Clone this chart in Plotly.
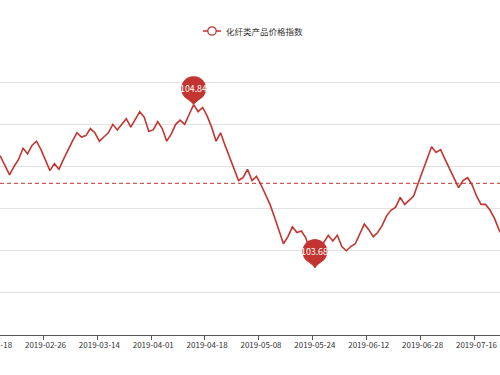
import math
import plotly.graph_objects as go

series_name = "化纤类产品价格指数"

# index values, one per published day (category positions)
index_values = [
    104.52, 104.50, 104.47, 104.41, 104.34, 104.40, 104.45, 104.53, 104.49, 104.55,
    104.58, 104.52, 104.45, 104.37, 104.42, 104.38, 104.45, 104.52, 104.58, 104.64,
    104.61, 104.62, 104.67, 104.64, 104.58, 104.61, 104.64, 104.70, 104.66, 104.70,
    104.74, 104.68, 104.74, 104.79, 104.75, 104.65, 104.66, 104.72, 104.67, 104.58,
    104.63, 104.70, 104.73, 104.70, 104.77, 104.84, 104.79, 104.82, 104.76, 104.68,
    104.58, 104.64, 104.55, 104.47, 104.39, 104.30, 104.32, 104.38, 104.30, 104.33,
    104.27, 104.20, 104.13, 104.04, 103.95, 103.85, 103.90, 103.97, 103.93, 103.94,
    103.89, 103.78, 103.68, 103.76, 103.86, 103.91, 103.87, 103.91, 103.83, 103.80,
    103.83, 103.85, 103.92, 103.99, 103.95, 103.90, 103.93, 103.98, 104.05, 104.09,
    104.11, 104.18, 104.13, 104.16, 104.19, 104.28, 104.37, 104.45, 104.54, 104.50,
    104.52, 104.45, 104.38, 104.31, 104.25, 104.30, 104.32, 104.27, 104.19, 104.13,
    104.13, 104.09, 104.03, 103.95, 103.89,
]

tick_labels = ["2019-01-18", "2019-02-26", "2019-03-14", "2019-04-01", "2019-04-18",
               "2019-05-08", "2019-05-24", "2019-06-12", "2019-06-28", "2019-07-16"]
label_step = 12
average_value = 104.28          # dashed average line
y_min, y_max, y_step = 103.2, 105.3, 0.3

RED = "#c23531"
FONT = "Noto Sans CJK SC, Noto Sans, sans-serif"

x = list(range(len(index_values)))
x_range = [1.87, 113.23]

fig = go.Figure()
fig.add_trace(go.Scatter(x=x, y=index_values, mode="lines", name=series_name,
                         line=dict(color=RED, width=1.6), showlegend=False,
                         hoverinfo="x+y"))

shapes = []
annotations = []

# average dashed line
shapes.append(dict(type="line", xref="paper", x0=0, x1=1, yref="y",
                   y0=average_value, y1=average_value,
                   line=dict(color=RED, width=1, dash="4px,3px"), layer="above"))


def pin_path(r=12.5, c=16.0, n=40):
    dy = r * r / (c + 1.0)
    dx = math.sqrt(r * r - dy * dy)
    start = math.atan2(-dy, dx)
    end = math.pi - start
    pts = []
    for i in range(n + 1):
        a = start + (end - start) * i / n
        pts.append((r * math.cos(a), c + r * math.sin(a)))
    d = "M %.2f,%.2f " % pts[0]
    d += " ".join("L %.2f,%.2f" % p for p in pts[1:])
    lx, ly = pts[-1]
    d += " Q %.2f,%.2f 0,0 Q %.2f,%.2f %.2f,%.2f Z" % (
        lx * 0.35, ly * 0.45, -lx * 0.35, ly * 0.45, pts[0][0], pts[0][1])
    return d


PIN_C = 16.0
i_max = max(range(len(index_values)), key=lambda i: index_values[i])
i_min = min(range(len(index_values)), key=lambda i: index_values[i])
for idx in (i_max, i_min):
    v = index_values[idx]
    shapes.append(dict(type="path", xref="x", yref="y", xsizemode="pixel",
                       ysizemode="pixel", xanchor=idx, yanchor=v,
                       path=pin_path(c=PIN_C), fillcolor=RED,
                       line=dict(width=0), layer="above"))
    annotations.append(dict(x=idx, y=v, xref="x", yref="y", text="%.2f" % v,
                            showarrow=False, yshift=PIN_C, font=dict(
                                family=FONT, size=8.8, color="white")))

# legend (drawn by hand, ECharts-style)
H = 375
top_m, bot_m = 40, 40
plot_h = H - top_m - bot_m


def py(p):
    return (H - bot_m - p) / plot_h


leg_y = 31
shapes.append(dict(type="line", xref="paper", yref="paper", x0=203 / 500,
                   x1=221 / 500, y0=py(leg_y), y1=py(leg_y),
                   line=dict(color=RED, width=1.5)))
shapes.append(dict(type="circle", xref="paper", yref="paper",
                   x0=207.8 / 500, x1=216.2 / 500, y0=py(leg_y + 4.2),
                   y1=py(leg_y - 4.2), fillcolor="white",
                   line=dict(color=RED, width=1.3)))
annotations.append(dict(x=224 / 500, y=py(leg_y), xref="paper", yref="paper",
                        xanchor="left", yanchor="middle", text=series_name,
                        showarrow=False, font=dict(family=FONT, size=8.5,
                                                   color="#333")))

# first, cropped category label
first_px = (0 - x_range[0]) / (x_range[1] - x_range[0])
annotations.append(dict(x=first_px, y=0, xref="paper", yref="paper",
                        xanchor="center", yanchor="top", yshift=-2,
                        text=tick_labels[0], showarrow=False,
                        font=dict(family=FONT, size=8, color="#333")))

tickvals_x = [label_step * i for i in range(1, len(tick_labels))]

fig.update_layout(
    width=500, height=375,
    margin=dict(l=0, r=0, t=top_m, b=bot_m),
    paper_bgcolor="white", plot_bgcolor="white",
    showlegend=False,
    shapes=shapes, annotations=annotations,
    font=dict(family=FONT, size=8, color="#333"),
    xaxis=dict(range=x_range, tickvals=tickvals_x, ticktext=tick_labels[1:],
               ticks="", showline=True, linecolor="#555", linewidth=1,
               showgrid=False, zeroline=False,
               tickfont=dict(family=FONT, size=8, color="#333"),
               ticklabelstandoff=2,
               minor=dict(tick0=-0.5, dtick=label_step, ticks="outside",
                          ticklen=4, tickcolor="#555", showgrid=False)),
    yaxis=dict(range=[y_min, y_max + 0.0005],
               tickvals=[round(y_min + i * y_step, 2) for i in range(8)],
               showticklabels=False, showgrid=True, gridcolor="#e3e3e3",
               gridwidth=1, zeroline=False, showline=False, ticks=""),
)

fig.write_html("out.html", config={"displayModeBar": False},
               post_script="document.body.style.margin='0';document.body.style.overflow='hidden';")
